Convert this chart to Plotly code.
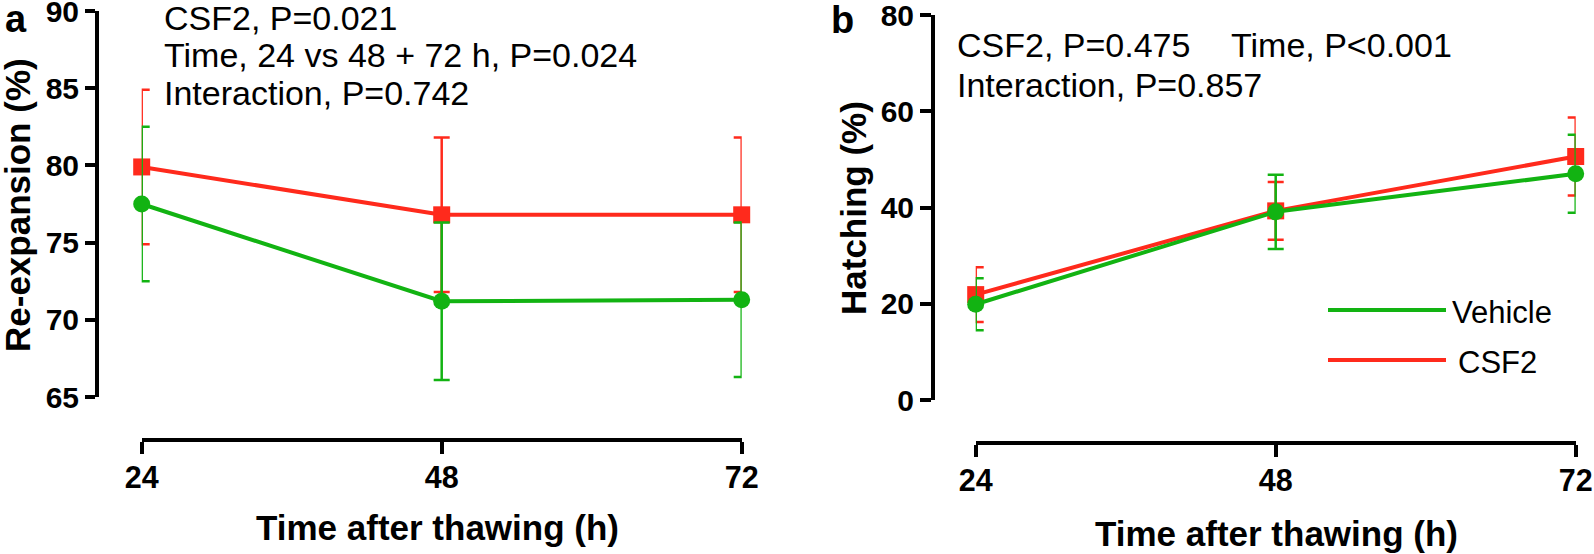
import plotly.graph_objects as go

W, H = 1594, 554

# ---------------- data ----------------
time_h = [24, 48, 72]
x_tick_labels = ["24", "48", "72"]

reexp_vehicle = [77.5, 71.2, 71.3]
reexp_vehicle_err = [5.0, 5.1, 5.0]
reexp_csf2 = [79.9, 76.8, 76.8]
reexp_csf2_err = [5.0, 5.0, 5.0]

hatch_vehicle = [19.9, 39.1, 47.0]
hatch_vehicle_err = [5.4, 7.7, 8.1]
hatch_csf2 = [21.9, 39.3, 50.6]
hatch_csf2_err = [5.7, 6.0, 8.1]

reexp_ticks = [65, 70, 75, 80, 85, 90]
hatch_ticks = [0, 20, 40, 60, 80]

stats_a = ["CSF2, P=0.021", "Time, 24 vs 48 + 72 h, P=0.024", "Interaction, P=0.742"]
stats_b = ["CSF2, P=0.475", "Time, P<0.001", "Interaction, P=0.857"]
series_names = ["Vehicle", "CSF2"]

GREEN = "#12b312"
RED = "#ff2a1c"
FONT = "Liberation Sans, Arial, sans-serif"


def fx(px):
    return px / W


def fy(py):
    return 1 - py / H


fig = go.Figure()


def add_series(xa, ya, y, err, color, symbol, name):
    fig.add_trace(go.Scatter(
        x=time_h, y=y, xaxis=xa, yaxis=ya, name=name, mode="lines+markers",
        line=dict(color=color, width=4),
        marker=dict(color=color, size=17, symbol=symbol),
        error_y=dict(type="data", array=err, visible=True, color=color,
                     thickness=2.5, width=8),
        cliponaxis=False, showlegend=False,
    ))


add_series("x", "y", reexp_csf2, reexp_csf2_err, RED, "square", series_names[1])
add_series("x", "y", reexp_vehicle, reexp_vehicle_err, GREEN, "circle", series_names[0])
add_series("x2", "y2", hatch_csf2, hatch_csf2_err, RED, "square", series_names[1])
add_series("x2", "y2", hatch_vehicle, hatch_vehicle_err, GREEN, "circle", series_names[0])

axis_common = dict(showgrid=False, zeroline=False, showline=True, linecolor="black",
                   linewidth=4, ticks="outside", tickcolor="black", tickwidth=4,
                   ticklabeloverflow="allow")
xfont = dict(family=FONT, size=30.5, color="black", weight="bold")
yfont = dict(family=FONT, size=30, color="black", weight="bold")

fig.update_layout(
    width=W, height=H,
    margin=dict(l=0, r=0, t=0, b=0, pad=0, autoexpand=False),
    paper_bgcolor="white", plot_bgcolor="white",
    xaxis=dict(domain=[fx(141.7), fx(741.7)], range=[24, 72], anchor="free",
               position=fy(440), tickvals=time_h, ticktext=x_tick_labels,
               ticklen=12, ticklabelstandoff=-3, tickfont=xfont, **axis_common),
    yaxis=dict(domain=[fy(397), fy(11)], range=[65, 90], anchor="free",
               position=fx(97), tickvals=reexp_ticks, ticklen=10,
               tickfont=yfont, **axis_common),
    xaxis2=dict(domain=[fx(975.7), fx(1575.7)], range=[24, 72], anchor="free",
                position=fy(443), tickvals=time_h, ticktext=x_tick_labels,
                ticklen=12, ticklabelstandoff=-3, tickfont=xfont, **axis_common),
    yaxis2=dict(domain=[fy(400), fy(15)], range=[0, 80], anchor="free",
                position=fx(933), tickvals=hatch_ticks, ticklen=11,
                tickfont=yfont, **axis_common),
)

ann = []


def text(t, xpx, ypx_center, size, bold=False, xanchor="left", angle=0):
    ann.append(dict(text=t, x=fx(xpx), y=fy(ypx_center), xref="paper", yref="paper",
                    xanchor=xanchor, yanchor="middle", showarrow=False, textangle=angle,
                    borderpad=0, borderwidth=0,
                    font=dict(family=FONT, size=size, color="black",
                              weight="bold" if bold else "normal")))


# panel letters
text("a", 5, 19, 38, bold=True)
text("b", 831, 20, 38, bold=True)

# stats panel a
text(stats_a[0], 164, 18, 34)
text(stats_a[1], 164, 55, 34)
text(stats_a[2], 164, 93, 34)
# stats panel b
text(stats_b[0], 957, 45, 34)
text(stats_b[1], 1231, 45, 34)
text(stats_b[2], 957, 85, 34)

# axis titles
text("Re-expansion (%)", 18, 205, 35, bold=True, xanchor="center", angle=-90)
text("Hatching (%)", 853, 208, 35, bold=True, xanchor="center", angle=-90)
text("Time after thawing (h)", 437, 527, 35, bold=True, xanchor="center")
text("Time after thawing (h)", 1276, 533, 35, bold=True, xanchor="center")

# legend
shapes = []
for name, color, ypx, xt in [(series_names[0], GREEN, 310, 1452), (series_names[1], RED, 360, 1458)]:
    shapes.append(dict(type="line", xref="paper", yref="paper", x0=fx(1328), x1=fx(1446),
                       y0=fy(ypx), y1=fy(ypx), line=dict(color=color, width=4)))
    text(name, xt, ypx + 2, 31)

fig.update_layout(annotations=ann, shapes=shapes)

fig.write_html("out.html", config={"displayModeBar": False},
               post_script="document.body.style.margin='0px';document.body.style.overflow='hidden';")
